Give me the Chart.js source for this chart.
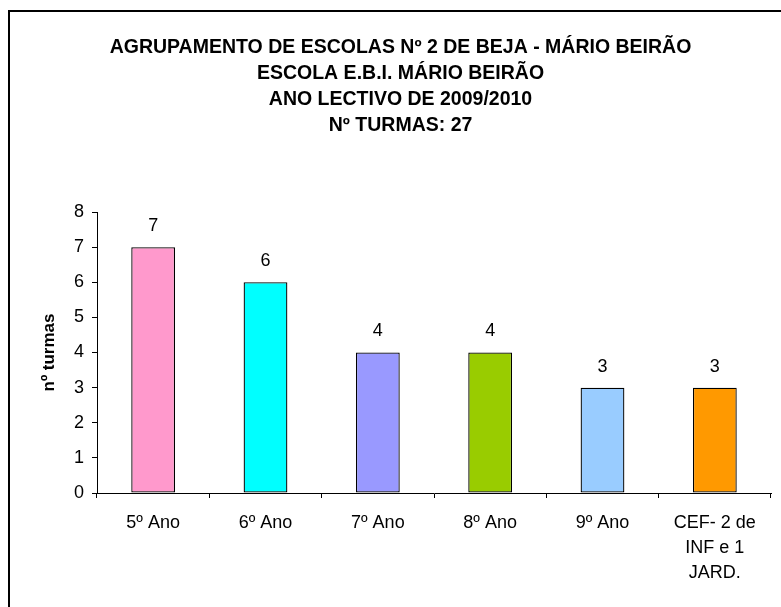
<!DOCTYPE html>
<html>
<head>
<meta charset="utf-8">
<script src="https://cdn.jsdelivr.net/npm/chart.js@4"></script>
<style>
    html, body { margin: 0; padding: 0; background: #fff; }
    #wrap { width: 781px; height: 607px; }
</style>
</head>
<body>
<div id="wrap"><canvas id="barChart" width="781" height="607"></canvas></div>
<script>
const titleLines = [
    "AGRUPAMENTO DE ESCOLAS Nº 2 DE BEJA - MÁRIO BEIRÃO",
    "ESCOLA E.B.I. MÁRIO BEIRÃO",
    "ANO LECTIVO DE 2009/2010",
    "Nº TURMAS: 27"
];
const categories = ["5º Ano", "6º Ano", "7º Ano", "8º Ano", "9º Ano", ["CEF- 2 de", "INF e 1", "JARD."]];
const turmas = [7, 6, 4, 4, 3, 3];
const barColors = ["#FF99CC", "#00FFFF", "#9999FF", "#99CC00", "#99CCFF", "#FF9900"];

// frame around the chart, goes off the page to the right and bottom
const frame = {
    id: "frame",
    beforeDraw(chart) {
        const ctx = chart.ctx;
        ctx.save();
        ctx.strokeStyle = "#000";
        ctx.lineWidth = 2;
        ctx.strokeRect(9, 11, 1000, 1000);
        ctx.restore();
    }
};

// value written above each bar
const barValues = {
    id: "barValues",
    afterDatasetsDraw(chart) {
        const ctx = chart.ctx;
        const meta = chart.getDatasetMeta(0);
        ctx.save();
        ctx.font = "18px 'Liberation Sans', Arial, sans-serif";
        ctx.fillStyle = "#000";
        ctx.textAlign = "center";
        ctx.textBaseline = "middle";
        meta.data.forEach((bar, i) => {
            ctx.fillText(chart.data.datasets[0].data[i], bar.x, bar.y - 21);
        });
        ctx.restore();
    }
};

new Chart(document.getElementById("barChart"), {
    type: "bar",
    data: {
        labels: categories,
        datasets: [{
            data: turmas,
            backgroundColor: barColors,
            borderColor: "#000",
            borderWidth: 1.3,
            borderSkipped: false,
            categoryPercentage: 1,
            barPercentage: 0.39
        }]
    },
    options: {
        responsive: false,
        animation: false,
        devicePixelRatio: 1,
        layout: { padding: { left: 30, right: 10, top: 0, bottom: 0 } },
        plugins: {
            legend: { display: false },
            tooltip: { enabled: false },
            title: {
                display: true,
                text: titleLines,
                color: "#000",
                font: { family: "'Liberation Sans', Arial, sans-serif", size: 19.5, weight: "bold", lineHeight: 26 / 19.5 },
                padding: { top: 35, bottom: 73 }
            }
        },
        scales: {
            x: {
                grid: { display: true, offset: true, drawOnChartArea: false, tickLength: 5, color: "#000" },
                border: { color: "#000", width: 1 },
                ticks: {
                    color: "#000",
                    maxRotation: 0,
                    padding: 13,
                    font: { family: "'Liberation Sans', Arial, sans-serif", size: 18, lineHeight: 25 / 18 }
                },
                afterFit(scale) { scale.height = 114; }
            },
            y: {
                min: 0,
                max: 8,
                ticks: {
                    stepSize: 1,
                    color: "#000",
                    padding: 8,
                    font: { family: "'Liberation Sans', Arial, sans-serif", size: 18 }
                },
                grid: { display: true, drawOnChartArea: false, tickLength: 5, color: "#000" },
                border: { color: "#000", width: 1 },
                title: {
                    display: true,
                    text: "nº turmas",
                    color: "#000",
                    padding: { top: 9, bottom: 0 },
                    font: { family: "'Liberation Sans', Arial, sans-serif", size: 17, weight: "bold" }
                },
                afterFit(scale) { scale.width = 67; }
            }
        }
    },
    plugins: [frame, barValues]
});
</script>
</body>
</html>
